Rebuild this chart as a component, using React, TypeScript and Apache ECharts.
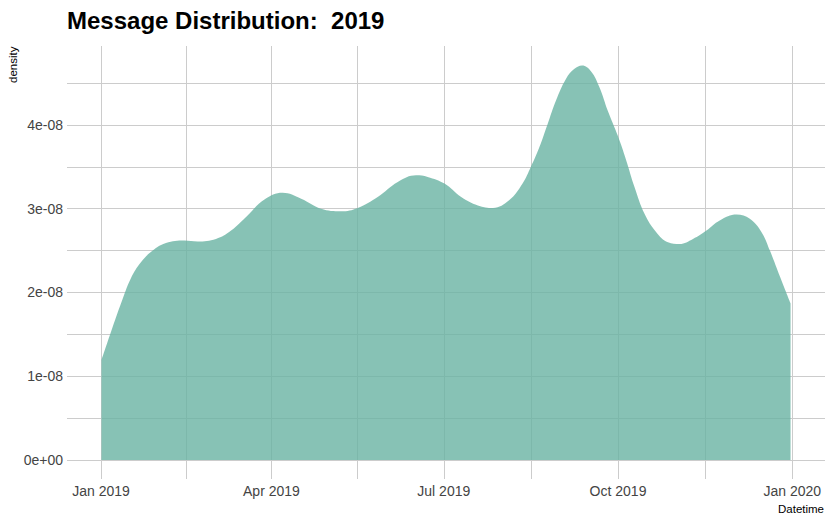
import React, { useEffect, useRef } from "react";
import * as echarts from "echarts";

// Day offsets from 1 Jan 2019 and density values (in units of 1e-08)
const dayOffsets = [
  0.25, 5.3, 10.6, 15.8, 21.1, 27.3, 34.3, 44, 51, 60.7, 68.7, 77.4, 86.3, 95.9,
  105.7, 116.2, 126.8, 135.6, 146.1, 156.7, 166.4, 172.5, 181.4, 190.2, 199, 207,
  215.5, 222.6, 227, 231.4, 235.8, 240.2, 245.5, 250, 254, 258.8, 263.2, 267.6,
  272.9, 277.3, 281.7, 287, 293.2, 299.4, 305.5, 312.6, 319.7, 326.7, 335.6,
  342.6, 348.8, 353.2, 358.5, 364.1,
];
const densityE8 = [
  1.19, 1.53, 1.87, 2.17, 2.36, 2.5, 2.59, 2.62, 2.61, 2.64, 2.74, 2.92, 3.11, 3.19,
  3.12, 3.0, 2.97, 3.01, 3.14, 3.32, 3.4, 3.38, 3.3, 3.14, 3.04, 3.01,
  3.1, 3.3, 3.5, 3.73, 4.01, 4.29, 4.55, 4.67, 4.71, 4.64, 4.45, 4.17,
  3.87, 3.58, 3.26, 2.94, 2.72, 2.6, 2.58, 2.64, 2.74, 2.86, 2.93,
  2.88, 2.72, 2.5, 2.19, 1.87,
];

const xMajorDates = ["2019-01-01", "2019-04-01", "2019-07-01", "2019-10-01", "2020-01-01"];
const xTickLabels = ["Jan 2019", "Apr 2019", "Jul 2019", "Oct 2019", "Jan 2020"];
const yMajorValues = [0, 1, 2, 3, 4];
const yTickLabels = ["0e+00", "1e-08", "2e-08", "3e-08", "4e-08"];
const yMinorValues = [0.5, 1.5, 2.5, 3.5, 4.5];

const DAY = 86400000;
const START = Date.UTC(2019, 0, 1);
const FONT = "Liberation Sans, Arial, sans-serif";

export default function App() {
  const ref = useRef<HTMLDivElement>(null);
  useEffect(() => {
    if (!ref.current) return;
    const chart = echarts.init(ref.current, null, { renderer: "svg" });
    const majorDays = xMajorDates.map((d) => (Date.parse(d + "T00:00:00Z") - START) / DAY);
    const minorDays: number[] = [];
    for (let i = 0; i < majorDays.length - 1; i++) minorDays.push((majorDays[i] + majorDays[i + 1]) / 2);
    const allXTicks = [...majorDays, ...minorDays].sort((a, b) => a - b);
    const allYTicks = [...yMajorValues, ...yMinorValues].sort((a, b) => a - b);
    const data = dayOffsets.map((d, i) => [d, densityE8[i]]);
    const gridColor = "#cccccc";
    chart.setOption({
      animation: false,
      grid: { left: 67, right: 9, top: 46, bottom: 50 },
      title: {
        text: "Message Distribution:  2019",
        left: 62,
        top: 3,
        textStyle: { fontFamily: FONT, fontWeight: "bold", fontSize: 24, color: "#000" },
      },
      xAxis: {
        type: "value",
        min: -17.95,
        max: 382.3,
        axisLine: { show: false },
        axisTick: { show: false, customValues: allXTicks },
        splitLine: { show: true, lineStyle: { color: gridColor, width: 1 } },
        axisLabel: {
          customValues: majorDays,
          margin: 5,
          fontSize: 14,
          color: "#444",
          fontFamily: FONT,
          formatter: (v: number) => {
            const idx = majorDays.findIndex((t) => Math.abs(t - v) < 0.5);
            return idx >= 0 ? xTickLabels[idx] : "";
          },
        },
      },
      yAxis: {
        type: "value",
        min: -0.227,
        max: 4.943,
        axisLine: { show: false },
        axisTick: { show: false, customValues: allYTicks },
        splitLine: { show: true, lineStyle: { color: gridColor, width: 1 } },
        axisLabel: {
          customValues: yMajorValues,
          margin: 4,
          fontSize: 14,
          color: "#444",
          fontFamily: FONT,
          formatter: (v: number) => {
            const idx = yMajorValues.findIndex((t) => Math.abs(t - v) < 1e-6);
            return idx >= 0 ? yTickLabels[idx] : "";
          },
        },
      },
      graphic: [
        {
          type: "text",
          right: 10,
          top: 503,
          style: { text: "Datetime", fontSize: 11.5, fill: "#000", fontFamily: FONT },
        },
        {
          type: "text",
          x: 7,
          y: 83,
          rotation: Math.PI / 2,
          style: { text: "density", fontSize: 11.5, fill: "#000", fontFamily: FONT },
        },
      ],
      series: [
        {
          type: "line",
          data,
          smooth: 0.4,
          symbol: "none",
          lineStyle: { width: 0 },
          areaStyle: { color: "rgba(105,179,162,0.8)", opacity: 1 },
          silent: true,
        },
      ],
    });
    return () => chart.dispose();
  }, []);
  return <div ref={ref} style={{ width: 834, height: 529, position: "absolute", left: 0, top: 0 }} />;
}
